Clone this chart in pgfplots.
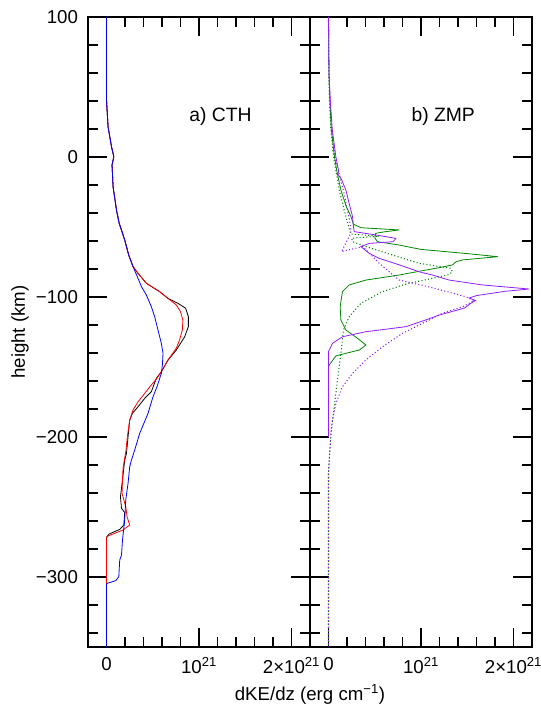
\documentclass[border=0pt]{standalone}
\usepackage{fontspec}
\setmainfont{Liberation Sans}
\usepackage{pgfplots}
\pgfplotsset{compat=1.18}

\definecolor{zgreen}{RGB}{0,135,0}
\definecolor{zpurple}{RGB}{145,30,255}

\pgfplotsset{
  panel/.style={
    scale only axis,
    width=166.5pt, height=472.5pt,
    xmin=-0.2, xmax=2.2, ymin=-350, ymax=100,
    xtick={0,1,2},
    xticklabels={0,10\textsuperscript{21},2×10\textsuperscript{21}},
    minor xtick={0.2,0.4,0.6,0.8,1.2,1.4,1.6,1.8},
    ytick={-300,-200,-100,0,100},
    minor ytick={-340,-320,-280,-260,-240,-220,-180,-160,-140,-120,-80,-60,-40,-20,20,40,60,80},
    tick align=inside,
    major tick length=14pt, minor tick length=7.5pt,
    every tick/.style={black, line width=0.8pt},
    axis line style={line width=0.9pt},
    tick label style={font=\fontsize{14}{16}\selectfont},
    xticklabel style={yshift=-4pt},
    yticklabel style={xshift=-4pt},
  },
  thin/.style={line width=0.6pt},
  dots/.style={line width=0.8pt, dash pattern=on 0.8pt off 1.7pt},
}

\begin{document}
\begin{tikzpicture}
\useasboundingbox (-66pt,-42.75pt) rectangle (339pt,485.25pt);

% a) CTH
\begin{axis}[panel, name=left, at={(0,0)}, anchor=south west,
    yticklabels={−300,−200,−100,0,100}]

% black
\addplot[black, thin] coordinates {
  (0,100) (0,40.7) (0.017,21.6) (0.054,7.4) (0.079,0.2) (0.06,-5.7) (0.071,-21.2)
  (0.108,-37.9) (0.136,-47) (0.197,-59.3) (0.24,-70) (0.287,-78.3)
  (0.341,-83.1) (0.431,-90.2) (0.575,-96.2) (0.665,-101) (0.772,-104.5) (0.855,-108)
  (0.885,-114) (0.885,-121.2) (0.845,-128.4) (0.755,-137.9) (0.665,-145) (0.593,-153.4)
  (0.539,-158.1) (0.485,-167.6) (0.413,-172.4) (0.341,-178.4) (0.28,-183.1) (0.251,-187.9)
  (0.233,-199.8) (0.216,-211.7) (0.197,-216.4) (0.173,-230.7) (0.151,-242.6) (0.162,-250.9)
  (0.197,-254) (0.187,-262.9) (0.143,-266) (0.028,-269.3) (0,-271.6) (0,-350)
};

% red
\addplot[red, thin] coordinates {
  (0,100) (0,40.7) (0.017,21.6) (0.054,7.4) (0.079,0.2) (0.06,-5.7) (0.071,-21.2)
  (0.108,-37.9) (0.136,-47) (0.197,-59.3) (0.24,-70) (0.287,-78.3)
  (0.341,-83.1) (0.431,-90.2) (0.575,-96.2) (0.665,-101) (0.755,-105.7) (0.80,-110.5)
  (0.826,-116.4) (0.82,-123.6) (0.79,-130.7) (0.755,-136.5) (0.665,-145) (0.593,-153.4)
  (0.54,-158.5) (0.47,-164) (0.413,-168.8) (0.34,-175) (0.287,-180.7) (0.251,-187.9)
  (0.225,-200) (0.21,-210) (0.179,-222) (0.173,-230.7) (0.168,-240.2) (0.208,-249.8)
  (0.222,-256.9) (0.251,-262.9) (0.179,-266.4) (0.017,-270.7) (0,-272) (0,-350)
};

% blue
\addplot[blue, thin] coordinates {
  (0,100) (0,40.7) (0.017,21.6) (0.054,7.4) (0.079,0.2) (0.06,-5.7) (0.071,-21.2)
  (0.108,-37.9) (0.136,-47) (0.197,-59.3) (0.24,-70) (0.287,-78.3)
  (0.33,-85) (0.378,-92.6) (0.431,-98.6) (0.485,-106.9) (0.521,-114.1) (0.557,-123.6)
  (0.593,-133.1) (0.611,-140.2) (0.605,-148) (0.593,-154.5) (0.546,-164.1) (0.503,-171.2)
  (0.449,-183.1) (0.359,-197.4) (0.305,-209.3) (0.27,-216.4) (0.251,-221.2) (0.233,-233.1)
  (0.208,-245) (0.197,-259.3) (0.173,-273.6) (0.162,-284.3) (0.143,-287.9) (0.133,-299.8)
  (0.1,-302.6) (0.007,-304.5) (0,-305) (0,-350)
};

\node[font=\fontsize{14.5}{17}\selectfont] at (axis cs:1.233,28.6) {a) CTH};
\end{axis}

% b) ZMP
\begin{axis}[panel, name=right, at={(166.5pt,0)}, anchor=south west,
    yticklabels={}]

% green dotted
\addplot[zgreen, dots] coordinates {
  (0,100) (0.003,60) (0.01,40) (0.025,20) (0.055,0) (0.116,-23.6) (0.188,-42.6)
  (0.22,-50) (0.24,-55) (0.55,-56.5) (0.25,-58) (0.26,-60.5) (0.5,-66) (0.764,-71.5)
  (0.98,-75.9) (1.32,-79.5) (1.34,-81.9) (1.3,-84) (1.1,-87) (0.85,-90.5) (0.584,-96.2)
  (0.35,-104.5) (0.224,-114.1) (0.162,-123.6) (0.134,-140.2) (0.097,-159.3) (0.062,-178.4)
  (0.026,-197.4) (0.008,-216.4) (0,-225) (0,-350)
};

% purple dotted
\addplot[zpurple, dots] coordinates {
  (0,100) (0.004,60) (0.015,40) (0.035,20) (0.07,0) (0.16,-23.6) (0.22,-42.6)
  (0.24,-50) (0.242,-54.3) (0.14,-67.6) (0.37,-64) (0.55,-76) (0.764,-87.9) (1.1,-93)
  (1.485,-99.8) (1.575,-102.6) (1.52,-104.5) (1.45,-107) (1.232,-111.6) (1.016,-118.8)
  (0.80,-125.9) (0.584,-135.5) (0.404,-145) (0.26,-154.5) (0.151,-164.1) (0.08,-175.9)
  (0.043,-187.9) (0.026,-199.8) (0.008,-216.4) (0,-225) (0,-350)
};

% green solid
\addplot[zgreen, thin] coordinates {
  (0,100) (0.005,60) (0.015,40) (0.03,20) (0.065,0) (0.09,-10) (0.134,-23.6) (0.19,-35)
  (0.242,-42.6) (0.27,-48) (0.35,-50.5) (0.764,-52.1) (0.6,-53.5) (0.51,-54.5) (0.5,-57.7)
  (0.53,-60.5) (0.764,-62.9) (1.0,-66) (1.5,-69) (1.83,-71.2) (1.45,-73.5) (1.38,-74.8)
  (1.34,-77.1) (1.2,-79) (0.95,-82) (0.764,-84.3) (0.404,-87.9) (0.224,-91.4) (0.151,-96.2)
  (0.126,-106.9) (0.134,-116.4) (0.188,-123.6) (0.314,-129.5) (0.404,-134.3) (0.332,-137.9)
  (0.2,-140) (0.08,-142.1) (0.008,-148.6) (0,-150) (0,-200)
};

% purple solid
\addplot[zpurple, thin] coordinates {
  (0,100) (0.005,60) (0.02,40) (0.04,20) (0.08,0) (0.11,-10) (0.10,-12) (0.14,-16)
  (0.188,-23.6) (0.23,-35) (0.26,-42.6) (0.27,-50) (0.278,-53.3) (0.512,-55.7) (0.728,-58.1)
  (0.70,-60.5) (0.44,-61.7) (0.35,-64) (0.44,-68.8) (0.548,-72.4) (0.764,-77) (0.98,-82)
  (1.124,-84.3) (1.305,-87.9) (1.665,-91.4) (2.17,-94.3) (1.9,-96) (1.6,-99) (1.52,-100.7)
  (1.59,-102.5) (1.55,-104) (1.47,-107.9) (1.197,-112.9) (1.05,-116.4) (0.837,-121.2)
  (0.404,-124.8) (0.151,-128.4) (0.043,-133.1) (0,-139) (0,-200)
};

\node[font=\fontsize{14.5}{17}\selectfont] at (axis cs:1.24,28.8) {b) ZMP};
\end{axis}

\node[anchor=base, font=\fontsize{14}{16}\selectfont] at ([yshift=-40pt]left.south east)
  {dKE/dz (erg cm\textsuperscript{−1})};
\node[rotate=90, font=\fontsize{14}{16}\selectfont] at ([xshift=-51pt]left.west)
  {height (km)};
\end{tikzpicture}
\end{document}
